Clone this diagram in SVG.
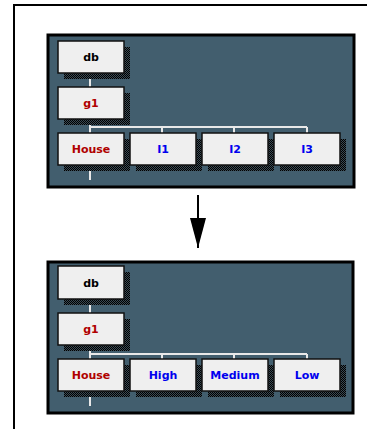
<svg xmlns="http://www.w3.org/2000/svg" width="367" height="429" viewBox="0 0 367 429">
<defs>
<pattern id="dots" width="2" height="2" patternUnits="userSpaceOnUse">
<rect width="2" height="2" fill="#3a4a54"/>
<rect width="1" height="1" fill="#000"/>
<rect x="1" y="1" width="1" height="1" fill="#000"/>
</pattern>
<marker id="ah" markerWidth="30" markerHeight="16" refX="30" refY="8" orient="auto" markerUnits="userSpaceOnUse" viewBox="0 0 30 16">
<path d="M0,0 L30,8 L0,16 Z" fill="#000"/>
</marker>
</defs>
<style>
.panel{fill:#425e6e;stroke:#000;stroke-width:3}
.box{fill:#efefef;stroke:#111;stroke-width:1.5}
.sh{fill:url(#dots)}
.lbl{font-family:"DejaVu Sans",sans-serif;font-weight:bold;font-size:11px;text-anchor:middle}
.red{fill:#b00000}
.blue{fill:#0000ee}
.blk{fill:#000}
.wire{stroke:#e8e8e8;stroke-width:2;fill:none}
</style>
<rect x="0" y="0" width="367" height="429" fill="#fff"/>
<path d="M14,429 L14,5 L367,5" fill="none" stroke="#000" stroke-width="2"/>

<g id="panel-top">
<rect class="panel" x="48" y="35" width="306" height="152"/>
</g>
<g id="panel-bottom">
<rect class="panel" x="48" y="262" width="305" height="151"/>
</g>

<g id="connectors">
<path class="wire" d="M90,73 V87 M90,119 V133 M90,127 H307 M162,127 V133 M234,127 V133 M307,127 V133 M90,165 V180"/>
<path class="wire" d="M90,299 V313 M90,345 V359 M90,354 H307 M162,354 V359 M234,354 V359 M307,354 V359 M90,391 V406"/>
<line x1="198" y1="195" x2="198" y2="248" stroke="#000" stroke-width="2" marker-end="url(#ah)"/>
</g>

<g id="t-db"><rect class="sh" x="64" y="47" width="66" height="32"/><rect class="box" x="58" y="41" width="66" height="32"/><text class="lbl blk" x="91" y="61">db</text></g>
<g id="t-g1"><rect class="sh" x="64" y="93" width="66" height="32"/><rect class="box" x="58" y="87" width="66" height="32"/><text class="lbl red" x="91" y="107">g1</text></g>
<g id="t-house"><rect class="sh" x="64" y="139" width="66" height="32"/><rect class="box" x="58" y="133" width="66" height="32"/><text class="lbl red" x="91" y="153">House</text></g>
<g id="t-i1"><rect class="sh" x="136" y="139" width="66" height="32"/><rect class="box" x="130" y="133" width="66" height="32"/><text class="lbl blue" x="163" y="153">I1</text></g>
<g id="t-i2"><rect class="sh" x="208" y="139" width="66" height="32"/><rect class="box" x="202" y="133" width="66" height="32"/><text class="lbl blue" x="235" y="153">I2</text></g>
<g id="t-i3"><rect class="sh" x="280" y="139" width="66" height="32"/><rect class="box" x="274" y="133" width="66" height="32"/><text class="lbl blue" x="307" y="153">I3</text></g>

<g id="b-db"><rect class="sh" x="64" y="272" width="66" height="33"/><rect class="box" x="58" y="266" width="66" height="33"/><text class="lbl blk" x="91" y="287">db</text></g>
<g id="b-g1"><rect class="sh" x="64" y="319" width="66" height="32"/><rect class="box" x="58" y="313" width="66" height="32"/><text class="lbl red" x="91" y="333">g1</text></g>
<g id="b-house"><rect class="sh" x="64" y="365" width="66" height="32"/><rect class="box" x="58" y="359" width="66" height="32"/><text class="lbl red" x="91" y="379">House</text></g>
<g id="b-high"><rect class="sh" x="136" y="365" width="66" height="32"/><rect class="box" x="130" y="359" width="66" height="32"/><text class="lbl blue" x="163" y="379">High</text></g>
<g id="b-medium"><rect class="sh" x="208" y="365" width="66" height="32"/><rect class="box" x="202" y="359" width="66" height="32"/><text class="lbl blue" x="235" y="379">Medium</text></g>
<g id="b-low"><rect class="sh" x="280" y="365" width="66" height="32"/><rect class="box" x="274" y="359" width="66" height="32"/><text class="lbl blue" x="307" y="379">Low</text></g>
</svg>
